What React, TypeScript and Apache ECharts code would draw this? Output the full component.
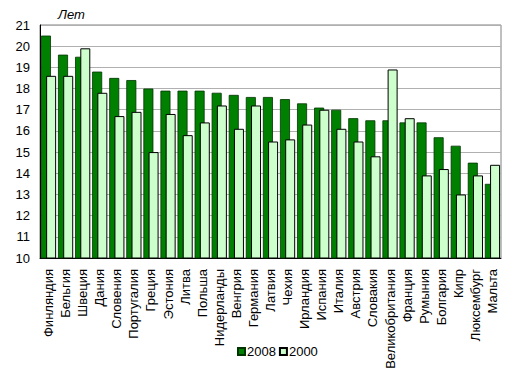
import React, { useEffect, useRef } from "react";
import * as echarts from "echarts";

const categories = [
  "Финляндия", "Бельгия", "Швеция", "Дания", "Словения", "Португалия", "Греция",
  "Эстония", "Литва", "Польша", "Нидерланды", "Венгрия", "Германия", "Латвия",
  "Чехия", "Ирландия", "Испания", "Италия", "Австрия", "Словакия",
  "Великобритания", "Франция", "Румыния", "Болгария", "Кипр", "Люксембург", "Мальта",
];
const values2008 = [
  20.5, 19.6, 19.5, 18.8, 18.5, 18.4, 18.0, 17.9, 17.9, 17.9, 17.8, 17.7, 17.6, 17.6,
  17.5, 17.3, 17.1, 17.0, 16.6, 16.5, 16.5, 16.4, 16.4, 15.7, 15.3, 14.5, 13.5,
];
const values2000 = [
  18.6, 18.6, 19.9, 17.8, 16.7, 16.9, 15.0, 16.8, 15.8, 16.4, 17.2, 16.1, 17.2, 15.5,
  15.6, 16.3, 17.0, 16.1, 15.5, 14.8, 18.9, 16.6, 13.9, 14.2, 13.0, 13.9, 14.4,
];
const seriesNames = ["2008", "2000"];

export default function App() {
  const ref = useRef<HTMLDivElement>(null);
  useEffect(() => {
    document.body.style.margin = "0";
    const chart = echarts.init(ref.current!, null, { renderer: "svg" });
    const font = "Liberation Sans, Arial, sans-serif";
    chart.setOption({
      animation: false,
      backgroundColor: "#ffffff",
      textStyle: { fontFamily: font },
      grid: {
        left: 40,
        right: 16,
        top: 25,
        bottom: 116,
        show: true,
        borderColor: "#808080",
        borderWidth: 1,
        containLabel: false,
        outerBoundsMode: "none",
      },
      graphic: [
        {
          type: "text",
          left: 58,
          top: 8,
          style: { text: "Лет", font: "italic 13px " + font, fill: "#000" },
        },
      ],
      legend: {
        top: 340,
        left: 232,
        itemWidth: 7,
        itemHeight: 7,
        itemGap: 3,
        icon: "rect",
        textStyle: { fontSize: 13, color: "#000", padding: [0, 0, 0, -3] },
        data: seriesNames,
      },
      xAxis: {
        type: "category",
        data: categories,
        axisLine: { lineStyle: { color: "#000" } },
        axisTick: { show: false },
        axisLabel: { rotate: 90, interval: 0, fontSize: 13, color: "#000", margin: 11 },
      },
      yAxis: {
        type: "value",
        min: 10,
        max: 21,
        interval: 1,
        axisLine: { show: true, lineStyle: { color: "#000" } },
        axisTick: { show: false },
        axisLabel: { fontSize: 13, color: "#000", margin: 10 },
        splitLine: { lineStyle: { color: "#b0b0b0" } },
      },
      series: [
        {
          name: seriesNames[0],
          type: "bar",
          data: values2008,
          barWidth: 10,
          barGap: "-48%",
          itemStyle: { color: "#008000", borderColor: "#003300", borderWidth: 0.8 },
        },
        {
          name: seriesNames[1],
          type: "bar",
          data: values2000,
          barWidth: 10,
          itemStyle: { color: "#ccffcc", borderColor: "#000000", borderWidth: 1 },
        },
      ],
    });
    return () => chart.dispose();
  }, []);
  return <div ref={ref} style={{ width: 517, height: 374 }} />;
}
